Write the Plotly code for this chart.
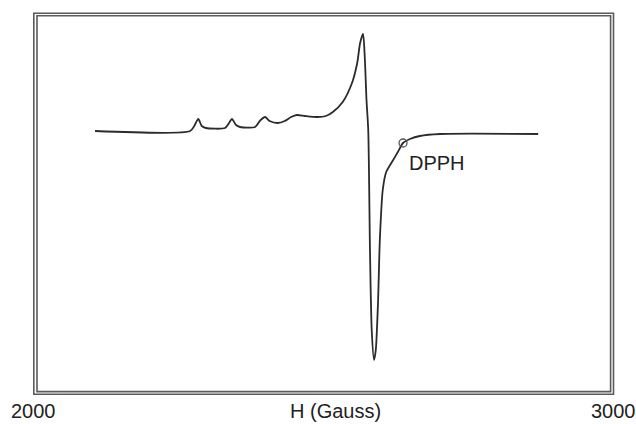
import plotly.graph_objects as go

# --- data (field in Gauss, derivative signal in arbitrary units) ---
field_gauss = [2107, 2271, 2278, 2285, 2291, 2298, 2331, 2338, 2343, 2350, 2357,
               2383, 2391, 2400, 2408, 2422, 2434, 2445, 2455, 2469, 2490, 2505,
               2517, 2534, 2550, 2559, 2564, 2569, 2572, 2575, 2578, 2581, 2584,
               2588, 2591, 2595, 2598, 2603, 2609, 2621, 2629, 2638, 2650, 2667,
               2702, 2871]
signal = [0, 0, 5, 12, 5, 3, 3, 8, 12, 6, 4,
          4, 10, 14, 10, 8, 10, 14, 16, 15, 14, 15,
          19, 29, 48, 68, 88, 97, 74, 31, 1, -119, -199,
          -229, -219, -169, -109, -59, -41, -29, -21, -12, -8, -5,
          -3, -3]

dpph_field = [2638]
dpph_signal = [-12]
dpph_label = "DPPH"

tick_values = [2000, 3000]
tick_labels = ["2000", "3000"]
x_title = "H (Gauss)"

W, H = 636, 424
L, R, T, B = 33, 23, 13, 30
PW, PH = W - L - R, H - T - B


def px(x):
    return (x - L) / PW


def py(y):
    return 1 - (y - T) / PH


FONT = dict(size=20, color="#222222", family="Liberation Sans, Arial")

fig = go.Figure()
fig.add_trace(go.Scatter(
    x=field_gauss, y=signal, mode="lines",
    line=dict(color="#2b2b2b", width=1.8, shape="spline", smoothing=0.7),
    hoverinfo="skip", showlegend=False))
fig.add_trace(go.Scatter(
    x=dpph_field, y=dpph_signal, mode="markers",
    marker=dict(symbol="circle-open", size=8, color="#555555", line=dict(width=1.3)),
    showlegend=False))

fig.add_annotation(x=dpph_field[0], y=dpph_signal[0], text=dpph_label, showarrow=False,
                   xanchor="left", yanchor="middle", xshift=4, yshift=-20, font=FONT)

for v, t in zip(tick_values, tick_labels):
    fig.add_annotation(x=v, y=0, yref="paper", text=t, showarrow=False,
                       xanchor="center", yanchor="top", yshift=-4, font=FONT)
fig.add_annotation(x=2521, y=0, yref="paper", text=x_title, showarrow=False,
                   xanchor="center", yanchor="top", yshift=-4, font=FONT)

# double frame
fig.add_shape(type="rect", xref="paper", yref="paper",
              x0=px(33.8), x1=px(613.5), y0=py(394.3), y1=py(13.3),
              line=dict(color="#5a5a5a", width=1.6))
fig.add_shape(type="rect", xref="paper", yref="paper",
              x0=px(37.0), x1=px(610.6), y0=py(391.6), y1=py(15.8),
              line=dict(color="#5a5a5a", width=1.6))

fig.update_xaxes(range=[2000, 3000], visible=False, fixedrange=True)
fig.update_yaxes(range=[-263, 118], visible=False, fixedrange=True)
fig.update_layout(width=W, height=H, autosize=False,
                  margin=dict(l=L, r=R, t=T, b=B, pad=0),
                  paper_bgcolor="white", plot_bgcolor="white")

fig.write_html("out.html", config={"displayModeBar": False},
               post_script="document.body.style.margin='0';document.body.style.overflow='hidden';")
